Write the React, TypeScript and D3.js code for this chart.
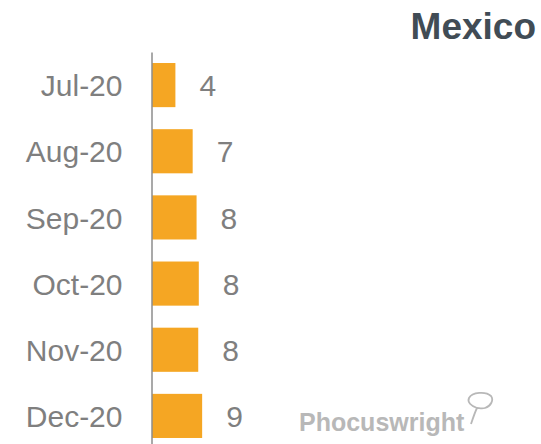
import React, { useEffect, useRef } from 'react';
import * as d3 from 'd3';

const months = ['Jul-20', 'Aug-20', 'Sep-20', 'Oct-20', 'Nov-20', 'Dec-20'];
const values = [4.2, 7.3, 8.0, 8.4, 8.3, 9.0];
const title = 'Mexico';
const brand = 'Phocuswright';

export default function App() {
  const svgRef = useRef<SVGSVGElement | null>(null);

  useEffect(() => {
    if (!svgRef.current) return;
    const svg = d3.select(svgRef.current);
    svg.selectAll('*').remove();

    const width = 541;
    const axisX = 151.5;
    const font = '"Liberation Sans", Arial, sans-serif';

    const y = d3.scaleBand().domain(months).range([52, 449]).paddingInner(0.333).paddingOuter(0.1665);
    const x = d3.scaleLinear().domain([0, 70]).range([axisX + 0.5, axisX + 0.5 + 390]);

    // bars
    svg.append('g')
      .selectAll('rect')
      .data(months)
      .join('rect')
      .attr('x', x(0))
      .attr('y', d => y(d) ?? 0)
      .attr('width', (d, i) => x(values[i]) - x(0))
      .attr('height', y.bandwidth())
      .attr('fill', '#F5A623');

    // value labels
    svg.append('g')
      .selectAll('text')
      .data(months)
      .join('text')
      .attr('x', (d, i) => x(values[i]) + 24)
      .attr('y', d => (y(d) ?? 0) + y.bandwidth() / 2)
      .attr('dy', '0.37em')
      .attr('font-family', font)
      .attr('font-size', 30)
      .attr('fill', '#7f7f7f')
      .text((d, i) => d3.format('.0f')(values[i]));

    // axis
    const ax = svg.append('g')
      .attr('transform', `translate(${axisX}, 0)`)
      .call(d3.axisLeft(y).tickSize(0).tickSizeOuter(0).tickPadding(29));
    ax.select('.domain').attr('stroke', '#8c8c8c').attr('stroke-width', 1.5);
    ax.selectAll('text')
      .attr('font-family', font)
      .attr('font-size', 30)
      .attr('fill', '#7f7f7f')
      .attr('dy', '0.37em');

    // title
    svg.append('text')
      .attr('x', width - 5)
      .attr('y', 39)
      .attr('text-anchor', 'end')
      .attr('font-family', font)
      .attr('font-weight', 'bold')
      .attr('font-size', 37)
      .attr('fill', '#414c55')
      .text(title);

    // brand mark
    svg.append('text')
      .attr('x', 299)
      .attr('y', 431)
      .attr('font-family', font)
      .attr('font-weight', 'bold')
      .attr('font-size', 25)
      .attr('fill', '#b8b8b8')
      .text(brand);
    svg.append('path')
      .attr('d', 'M471,424 C473,418 475,412 477,408 C471,406 467,402 469,398 C472,392 486,391 491,396 C494,400 491,406 485,408 C482,409 479,408 477,408')
      .attr('fill', 'none')
      .attr('stroke', '#b8b8b8')
      .attr('stroke-width', 1.8)
      .attr('stroke-linejoin', 'round');
  }, []);

  return (
    <svg
      ref={svgRef}
      width={541}
      height={444}
      style={{ position: 'absolute', left: 0, top: 0, background: '#fff' }}
    />
  );
}
